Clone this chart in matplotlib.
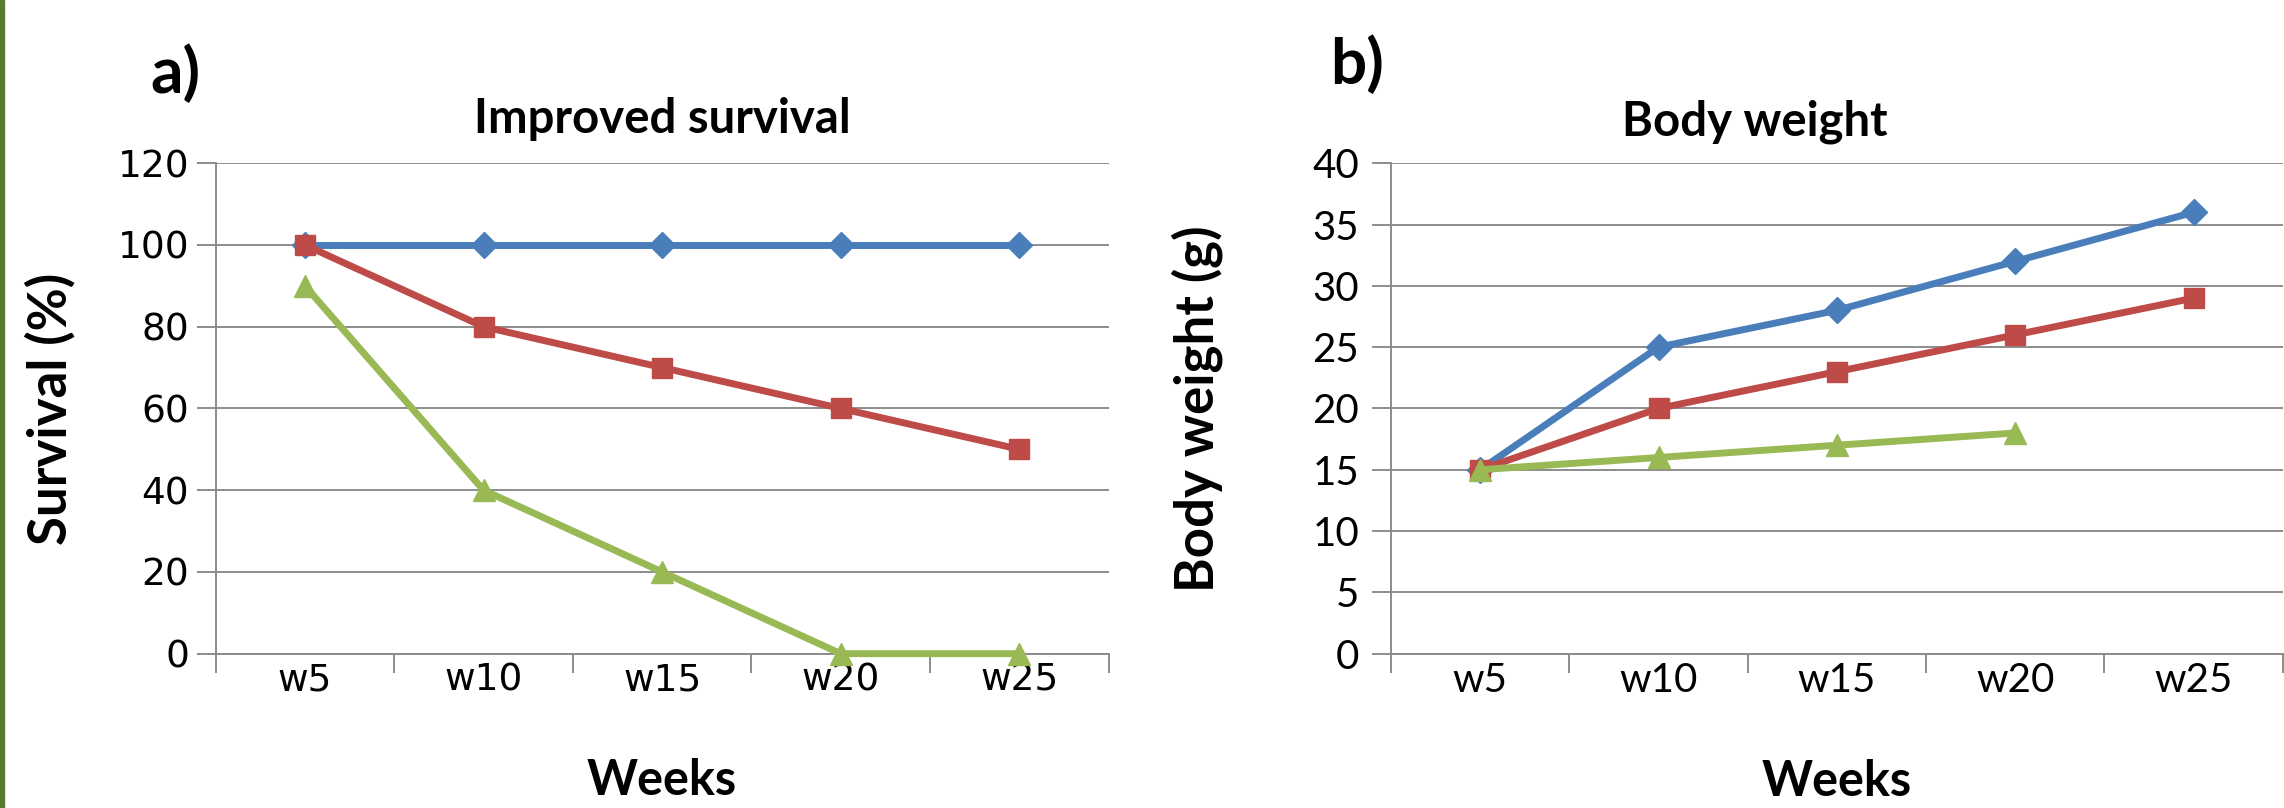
import matplotlib.pyplot as plt
from matplotlib.patches import Rectangle

weeks = ['w5', 'w10', 'w15', 'w20', 'w25']

surv_blue = [100, 100, 100, 100, 100]
surv_red = [100, 80, 70, 60, 50]
surv_green = [90, 40, 20, 0, 0]

bw_blue = [15, 25, 28, 32, 36]
bw_red = [15, 20, 23, 26, 29]
bw_green = [15, 16, 17, 18]

blue = '#4a7ebb'
red = '#be4b48'
green = '#98b954'
grid_c = '#8c8c8c'

plt.rcParams['font.family'] = ['Lato', 'DejaVu Sans']

fig = plt.figure(figsize=(22.84, 8.08), dpi=100)
ax1 = fig.add_axes([0.0944, 0.191, 0.391, 0.607])
ax2 = fig.add_axes([0.609, 0.191, 0.3905, 0.607])

# green rule on the left edge
fig.patches.append(Rectangle((0, 0), 0.0018, 1, transform=fig.transFigure,
                             color='#5b7a31', zorder=5))


def style(ax, ymax, ystep, tick_font, tick_size, ypad):
    x = list(range(len(weeks)))
    ax.set_xlim(-0.5, len(weeks) - 0.5)
    ax.set_ylim(0, ymax)
    ax.set_yticks(range(0, ymax + 1, ystep))
    ax.set_xticks(x)
    ax.set_xticklabels(weeks)
    ax.set_xticks([i - 0.5 for i in range(len(weeks) + 1)], minor=True)
    ax.tick_params(axis='x', which='major', length=0, labelsize=tick_size, pad=6,
                   labelfontfamily=tick_font)
    ax.tick_params(axis='x', which='minor', length=14, width=1.4, color=grid_c)
    ax.tick_params(axis='y', length=14, width=1.4, color=grid_c, labelsize=tick_size,
                   pad=ypad, labelfontfamily=tick_font)
    ax.grid(axis='y', color=grid_c, linewidth=1.4)
    ax.set_axisbelow(True)
    for s in ['top', 'right']:
        ax.spines[s].set_visible(False)
    for s in ['left', 'bottom']:
        ax.spines[s].set_color(grid_c)
        ax.spines[s].set_linewidth(1.4)
    ax.set_xlabel('Weeks', fontsize=35, fontweight='bold', labelpad=43)
    return x


lw = 5.0
x = style(ax1, 120, 20, 'DejaVu Sans', 27, 5)
ax1.plot(x, surv_blue, color=blue, lw=lw, marker='D', ms=13, zorder=3, clip_on=False)
ax1.plot(x, surv_red, color=red, lw=lw, marker='s', ms=15, zorder=4, clip_on=False)
ax1.plot(x, surv_green, color=green, lw=lw, marker='^', ms=16, zorder=5, clip_on=False)
ax1.set_ylabel('Survival (%)', fontsize=38, fontweight='bold', labelpad=30)
ax1.set_title('Improved survival', fontsize=34, fontweight='bold', pad=22)
fig.text(0.077, 0.91, 'a)', fontsize=46, fontweight='bold', ha='center', va='center')

x = style(ax2, 40, 5, 'Lato', 29, 9)
ax2.plot(x, bw_blue, color=blue, lw=lw, marker='D', ms=13, zorder=3, clip_on=False)
ax2.plot(x, bw_red, color=red, lw=lw, marker='s', ms=15, zorder=4, clip_on=False)
ax2.plot(x[:len(bw_green)], bw_green, color=green, lw=lw, marker='^', ms=16, zorder=5, clip_on=False)
ax2.set_ylabel('Body weight (g)', fontsize=38, fontweight='bold', labelpad=64)
ax2.set_title('Body weight', fontsize=34, fontweight='bold', pad=20, x=0.408)
fig.text(0.594, 0.92, 'b)', fontsize=46, fontweight='bold', ha='center', va='center')

fig.savefig('out.png', dpi=100)
